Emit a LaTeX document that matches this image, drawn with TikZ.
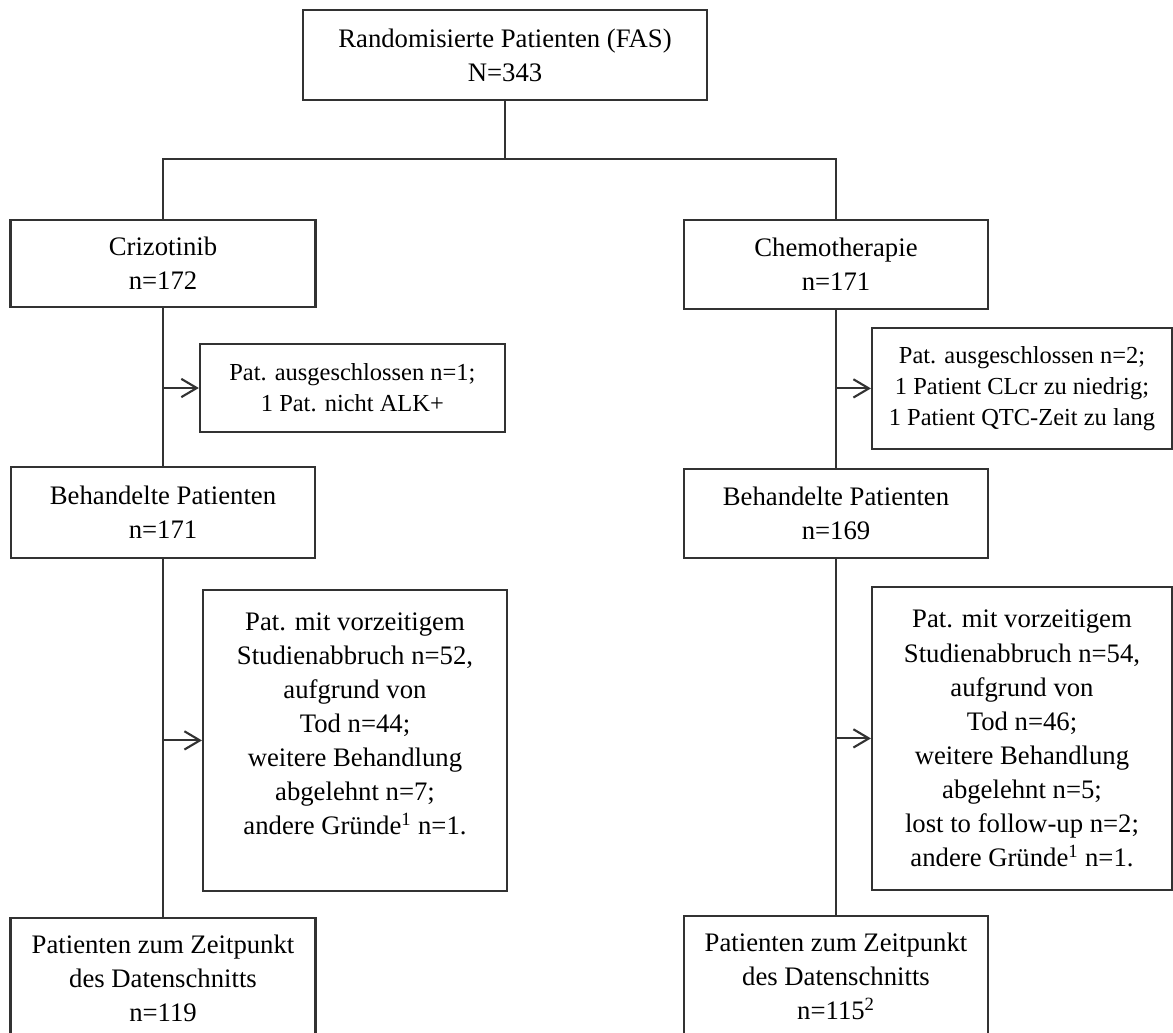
\documentclass[tikz,border=0pt]{standalone}
\usepackage{fontspec}
\setmainfont{Liberation Serif}
\usepackage{tikz}
\usetikzlibrary{arrows.meta}
\definecolor{FlowLine}{RGB}{50,50,50}

\begin{document}
\begin{tikzpicture}[
          bx/.style={rectangle, draw=FlowLine, line width=1.5pt, fill=white,
                     inner sep=0pt, align=center,
                     font=\fontsize{19}{24.2}\selectfont},
          exbx/.style={bx, font=\fontsize{17.4}{22}\selectfont},
          ln/.style={draw=FlowLine, line width=1.5pt},
          arr/.style={ln, -{Straight Barb[length=11pt, width=13pt]}}
        ]
        \clip (0,0) rectangle (29.325,-25.8);

        \node[bx, minimum width=10.1cm, minimum height=2.25cm]
              (rand)  at (12.625, -1.375)
              {Randomisierte Patienten (FAS)\\N=343};
        \node[bx, minimum width=7.625cm, minimum height=2.175cm]
              (criz)  at (4.075, -6.59)  {Crizotinib\\n=172};
        \node[bx, minimum width=7.6cm, minimum height=2.225cm]
              (chemo) at (20.9, -6.61)   {Chemotherapie\\n=171};
        \node[exbx, minimum width=7.625cm, minimum height=2.2cm]
              (exclL) at (8.81, -9.7)
              {Pat. ausgeschlossen n=1;\\1 Pat. nicht ALK+};
        \node[exbx, minimum width=7.5cm, minimum height=3.025cm]
              (exclR) at (25.55, -9.71)
              {Pat. ausgeschlossen n=2;\\1 Patient CLcr zu niedrig;\\1 Patient QTC-Zeit zu lang};
        \node[bx, minimum width=7.6cm, minimum height=2.275cm]
              (behL)  at (4.075, -12.81) {Behandelte Patienten\\n=171};
        \node[bx, minimum width=7.6cm, minimum height=2.225cm]
              (behR)  at (20.9, -12.84)  {Behandelte Patienten\\n=169};
        \node[bx, minimum width=7.6cm, minimum height=7.525cm]
              (dropL) at (8.875, -18.51)
              {Pat. mit vorzeitigem\\Studienabbruch n=52,\\aufgrund von\\Tod n=44;\\weitere Behandlung\\abgelehnt n=7;\\andere Gründe\textsuperscript{1} n=1.\\\mbox{}};
        \node[bx, minimum width=7.5cm, minimum height=7.575cm]
              (dropR) at (25.55, -18.46)
              {Pat. mit vorzeitigem\\Studienabbruch n=54,\\aufgrund von\\Tod n=46;\\weitere Behandlung\\abgelehnt n=5;\\lost to follow-up n=2;\\andere Gründe\textsuperscript{1} n=1.};
        \node[bx, minimum width=7.625cm, minimum height=3.0cm]
              (endL)  at (4.075, -24.45)
              {Patienten zum Zeitpunkt\\des Datenschnitts\\n=119};
        \node[bx, minimum width=7.6cm, minimum height=3.0cm]
              (endR)  at (20.9, -24.4)
              {Patienten zum Zeitpunkt\\des Datenschnitts\\n=115\textsuperscript{2}};

        \coordinate (split) at (12.625, -3.975);

        \draw[ln] (rand.south) -- (split);
        \draw[ln] (criz.north) |- (split) -| (chemo.north);
        \draw[ln] (criz)  -- (behL);
        \draw[ln] (behL)  -- (endL);
        \draw[ln] (chemo) -- (behR);
        \draw[ln] (behR)  -- (endR);

        \draw[arr] (criz.south |- exclL.west)  -- (exclL.west);
        \draw[arr] (chemo.south |- exclR.west) -- (exclR.west);
        \draw[arr] (behL.south |- dropL.west)  -- (dropL.west);
        \draw[arr] (behR.south |- dropR.west)  -- (dropR.west);
      \end{tikzpicture}
\end{document}
